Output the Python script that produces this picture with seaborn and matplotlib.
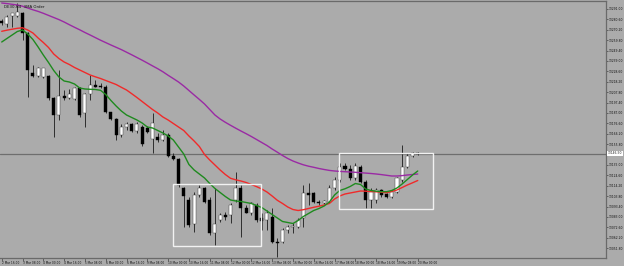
import numpy as np
import pandas as pd
import matplotlib
matplotlib.use("Agg")
import matplotlib.pyplot as plt
import matplotlib.transforms as mtransforms
from matplotlib.patches import Rectangle
import seaborn as sns

# ---------------- data ----------------
opens = [13279.3, 13276.0, 13284.0, 13284.0, 13287.3, 13266.7, 13226.7, 13224.0, 13223.3, 13224.0,
         13201.7, 13185.0, 13204.3, 13201.7, 13200.7, 13211.7, 13186.7, 13206.0, 13215.0, 13214.3,
         13213.3, 13187.7, 13180.7, 13165.0, 13173.3, 13175.7, 13169.3, 13173.3, 13172.0, 13161.0,
         13162.7, 13160.0, 13165.0, 13144.0, 13140.7, 13111.7, 13100.0, 13076.0, 13105.0, 13111.7,
         13100.0, 13067.3, 13080.0, 13085.0, 13085.0, 13100.0, 13112.3, 13091.7, 13087.3, 13095.0,
         13082.0, 13080.0, 13083.3, 13058.3, 13058.3, 13070.0, 13072.7, 13073.3, 13082.0, 13107.3,
         13106.7, 13098.3, 13096.7, 13098.3, 13111.7, 13120.0, 13134.0, 13130.7, 13121.7, 13133.3,
         13118.3, 13100.0, 13100.0, 13110.0, 13105.7, 13103.3, 13108.3, 13120.0, 13133.3, 13144.0,
         13147.5]
highs = [13281.0, 13285.0, 13287.3, 13297.0, 13288.3, 13268.0, 13235.0, 13233.3, 13232.3, 13225.0,
         13203.0, 13230.0, 13210.0, 13210.7, 13213.3, 13212.7, 13206.7, 13225.0, 13220.0, 13216.7,
         13215.0, 13188.3, 13182.0, 13176.0, 13178.3, 13177.3, 13178.3, 13175.0, 13174.0, 13186.7,
         13166.7, 13170.0, 13167.0, 13146.7, 13141.7, 13113.3, 13103.3, 13108.3, 13115.0, 13113.3,
         13103.3, 13112.0, 13086.7, 13088.3, 13097.3, 13128.3, 13115.0, 13095.0, 13098.3, 13096.7,
         13087.0, 13090.0, 13091.7, 13062.0, 13071.7, 13075.0, 13076.7, 13081.7, 13115.0, 13116.7,
         13108.3, 13100.0, 13100.0, 13115.0, 13123.3, 13136.7, 13136.7, 13135.0, 13136.7, 13135.0,
         13120.0, 13111.7, 13111.7, 13110.7, 13106.7, 13110.0, 13123.3, 13155.0, 13146.7, 13148.3,
         13148.0]
lows = [13275.0, 13273.3, 13273.0, 13283.0, 13260.0, 13203.3, 13223.3, 13222.7, 13222.5, 13200.0,
        13163.3, 13180.0, 13200.0, 13200.7, 13200.0, 13183.3, 13173.3, 13200.0, 13212.7, 13211.7,
        13186.7, 13180.0, 13160.0, 13163.3, 13170.0, 13168.3, 13166.7, 13154.0, 13167.0, 13146.7,
        13158.3, 13159.3, 13143.3, 13140.0, 13113.3, 13073.3, 13073.3, 13068.3, 13103.3, 13096.7,
        13065.0, 13055.0, 13078.3, 13080.0, 13076.7, 13098.3, 13063.3, 13086.7, 13085.0, 13078.3,
        13070.0, 13070.0, 13056.7, 13043.3, 13056.7, 13067.0, 13066.7, 13071.7, 13073.3, 13095.0,
        13096.7, 13095.0, 13096.0, 13096.7, 13110.0, 13118.3, 13130.0, 13120.0, 13120.0, 13116.7,
        13091.7, 13091.7, 13096.7, 13103.3, 13101.7, 13101.7, 13106.7, 13118.3, 13131.7, 13143.3,
        13145.5]
closes = [13276.7, 13283.3, 13286.7, 13288.3, 13266.7, 13230.0, 13224.0, 13231.7, 13231.7, 13201.7,
          13185.0, 13204.3, 13201.7, 13205.7, 13211.7, 13185.0, 13206.0, 13215.0, 13213.3, 13212.7,
          13188.3, 13180.7, 13165.0, 13173.3, 13175.7, 13169.3, 13175.7, 13156.0, 13168.3, 13176.7,
          13160.0, 13165.0, 13144.0, 13140.7, 13115.0, 13104.0, 13075.0, 13105.0, 13111.7, 13098.3,
          13066.7, 13076.0, 13085.0, 13083.3, 13095.0, 13112.3, 13091.7, 13087.3, 13096.7, 13080.0,
          13079.0, 13086.7, 13058.3, 13056.7, 13070.0, 13073.3, 13074.0, 13080.0, 13106.7, 13105.0,
          13098.3, 13096.7, 13099.0, 13111.7, 13120.0, 13133.3, 13130.7, 13121.7, 13134.0, 13118.3,
          13100.0, 13108.3, 13110.0, 13105.0, 13103.3, 13108.3, 13121.7, 13133.3, 13144.0, 13146.7,
          13146.5]

ma_fast = [13258.0, 13261.5, 13265.0, 13268.5, 13270.0, 13266.0, 13260.5, 13253.0, 13245.0, 13237.5,
           13229.5, 13223.0, 13219.0, 13218.0, 13216.0, 13212.0, 13211.0, 13210.7, 13210.5, 13209.7,
           13205.5, 13199.5, 13194.0, 13189.0, 13185.0, 13182.5, 13180.0, 13177.0, 13173.0, 13172.0,
           13169.5, 13167.0, 13164.0, 13160.0, 13153.0, 13146.0, 13135.5, 13130.0, 13126.0, 13122.0,
           13116.5, 13111.5, 13107.5, 13103.5, 13100.0, 13099.0, 13098.5, 13097.5, 13096.5, 13094.5,
           13092.5, 13089.0, 13085.5, 13082.0, 13078.5, 13077.5, 13076.5, 13079.5, 13083.5, 13086.5,
           13089.5, 13091.5, 13094.0, 13098.0, 13105.0, 13109.5, 13111.2, 13113.5, 13116.5, 13115.5,
           13111.0, 13109.5, 13108.8, 13108.3, 13108.3, 13109.5, 13112.0, 13116.0, 13120.5, 13125.0,
           13129.0]
ma_mid = [13268.7, 13269.8, 13270.8, 13271.7, 13272.2, 13270.0, 13267.0, 13262.0, 13257.5, 13252.5,
          13246.0, 13241.5, 13238.0, 13235.5, 13232.5, 13230.0, 13227.5, 13225.0, 13223.2, 13221.5,
          13219.5, 13217.5, 13215.5, 13212.7, 13210.0, 13206.3, 13202.5, 13198.5, 13194.5, 13190.5,
          13187.0, 13183.0, 13180.0, 13176.5, 13173.0, 13169.5, 13164.0, 13159.0, 13153.5, 13145.5,
          13140.0, 13135.0, 13130.0, 13125.5, 13121.7, 13120.2, 13119.0, 13117.5, 13115.5, 13113.4,
          13111.0, 13108.0, 13104.0, 13099.7, 13096.5, 13093.0, 13090.5, 13089.5, 13090.3, 13091.5,
          13092.7, 13093.8, 13095.0, 13096.5, 13101.0, 13104.0, 13106.0, 13107.0, 13108.0, 13109.0,
          13108.8, 13108.5, 13108.2, 13107.8, 13107.3, 13108.5, 13110.0, 13112.5, 13115.0, 13117.2,
          13119.5]
ma_slow = [13297.0, 13296.4, 13295.7, 13295.0, 13293.8, 13292.0, 13290.2, 13288.6, 13286.7, 13284.6,
           13282.5, 13280.4, 13278.0, 13275.3, 13272.7, 13270.2, 13267.5, 13265.0, 13262.4, 13259.8,
           13257.4, 13255.0, 13252.7, 13250.4, 13247.8, 13245.2, 13242.5, 13239.8, 13237.0, 13234.1,
           13231.3, 13228.2, 13224.7, 13221.4, 13218.0, 13214.0, 13209.5, 13205.0, 13200.6, 13196.0,
           13190.5, 13185.0, 13181.0, 13177.7, 13174.7, 13171.8, 13169.0, 13166.3, 13163.5, 13160.5,
           13157.5, 13154.5, 13151.0, 13147.8, 13144.5, 13141.5, 13139.0, 13137.0, 13135.2, 13133.8,
           13132.7, 13131.5, 13130.5, 13129.6, 13129.0, 13128.6, 13128.3, 13128.0, 13127.7, 13127.3,
           13126.9, 13126.5, 13126.0, 13125.4, 13124.7, 13124.0, 13124.0, 13124.4, 13125.0, 13125.5,
           13126.0]

time_labels = ["2 Mar 16:00", "3 Mar 08:00", "4 Mar 00:00", "4 Mar 16:00", "5 Mar 08:00",
               "6 Mar 00:00", "6 Mar 16:00", "9 Mar 08:00", "10 Mar 00:00", "10 Mar 16:00",
               "11 Mar 08:00", "12 Mar 00:00", "12 Mar 16:00", "13 Mar 08:00", "16 Mar 00:00",
               "16 Mar 16:00", "17 Mar 08:00", "18 Mar 00:00", "18 Mar 16:00", "19 Mar 08:00",
               "20 Mar 00:00"]
price_ticks = [13291.0 - 10.4 * k for k in range(24)]

# rectangles drawn on the chart: (first bar, last bar, top price, bottom price)
box_bars_start = [32.9, 64.9]
box_bars_end = [49.9, 83.0]
box_top = [13115.7, 13147.3]
box_bottom = [13054.3, 13091.0]

title_text = "DE30,H4  3MA Order"

# ---------------- style ----------------
BG = "#ababab"
sns.set_style("white")
plt.rcParams["font.family"] = ["DejaVu Sans"]

fig = plt.figure(figsize=(6.24, 2.66), dpi=100, facecolor=BG)
ax = fig.add_axes([0, 8 / 266, 606 / 624, 257 / 266])
ax.set_facecolor(BG)

n = len(opens)
bars = np.arange(n)
df = pd.DataFrame({"bar": bars, "open": opens, "high": highs, "low": lows, "close": closes,
                   "fast": ma_fast, "mid": ma_mid, "slow": ma_slow})

# current price line
last_price = closes[-1]
ax.axhline(last_price, color="#6e6e6e", lw=0.9, zorder=1)

# wicks
ax.vlines(df["bar"], df["low"], df["high"], color="#1a1a1a", lw=0.6, zorder=2)
# bodies
up = df["close"] >= df["open"]
body_h = np.maximum((df["close"] - df["open"]).abs(), 0.9)
body_b = np.minimum(df["open"], df["close"])
ax.bar(df["bar"][up], body_h[up], bottom=body_b[up], width=0.6,
       color="white", edgecolor="#333333", linewidth=0.3, zorder=2.5)
ax.bar(df["bar"][~up], body_h[~up], bottom=body_b[~up], width=0.6,
       color="black", edgecolor="black", linewidth=0.3, zorder=2.5)

# moving averages
sns.lineplot(data=df, x="bar", y="slow", color="#9a2aa4", lw=1.0, ax=ax, zorder=3)
sns.lineplot(data=df, x="bar", y="mid", color="#f02a2a", lw=1.0, ax=ax, zorder=3)
sns.lineplot(data=df, x="bar", y="fast", color="#1f8a1f", lw=1.0, ax=ax, zorder=3)

# rectangles
for s, e, t, b in zip(box_bars_start, box_bars_end, box_top, box_bottom):
    ax.add_patch(Rectangle((s, b), e - s, t - b, fill=False, edgecolor="#f2f2f2",
                           lw=1.0, zorder=4))

# axes limits (price axis on the right)
ax.set_xlim(-0.33, 116.2)
ax.set_ylim(13042, 13299)
ax.set_xlabel("")
ax.set_ylabel("")

ax.yaxis.tick_right()
ax.set_yticks(price_ticks)
ylabels = ["" if abs(p - last_price) < 3 else f"{p:.2f}" for p in price_ticks]
ax.set_yticklabels(ylabels)
ax.tick_params(axis="y", direction="out", length=1.5, width=0.5, color="#404040",
               labelsize=2.2, pad=0.4, labelcolor="#111111", right=True, left=False)

ax.set_xticks(list(range(0, n, 4)))
ax.set_xticklabels(time_labels)
for lbl in ax.get_xticklabels():
    lbl.set_horizontalalignment("left")
ax.tick_params(axis="x", direction="out", length=2, width=0.5, color="#404040",
               labelsize=2.1, pad=0.5, labelcolor="#111111", bottom=True)

for side in ["right", "bottom", "top"]:
    ax.spines[side].set_color("#6a6a6a")
    ax.spines[side].set_linewidth(0.9)
ax.spines["left"].set_visible(False)

# current price label
trans = mtransforms.blended_transform_factory(ax.transAxes, ax.transData)
ax.text(1.003, last_price, f"{last_price:.2f}", transform=trans, fontsize=2.2,
        va="center", ha="left", color="#222222", zorder=6, clip_on=False,
        bbox=dict(boxstyle="square,pad=0.2", facecolor="white", edgecolor="none"))

# title
ax.text(0.006, 0.985, title_text, transform=ax.transAxes, fontsize=2.8,
        va="top", ha="left", color="#111111", zorder=6)

fig.savefig("out.png", dpi=100, facecolor=BG)
